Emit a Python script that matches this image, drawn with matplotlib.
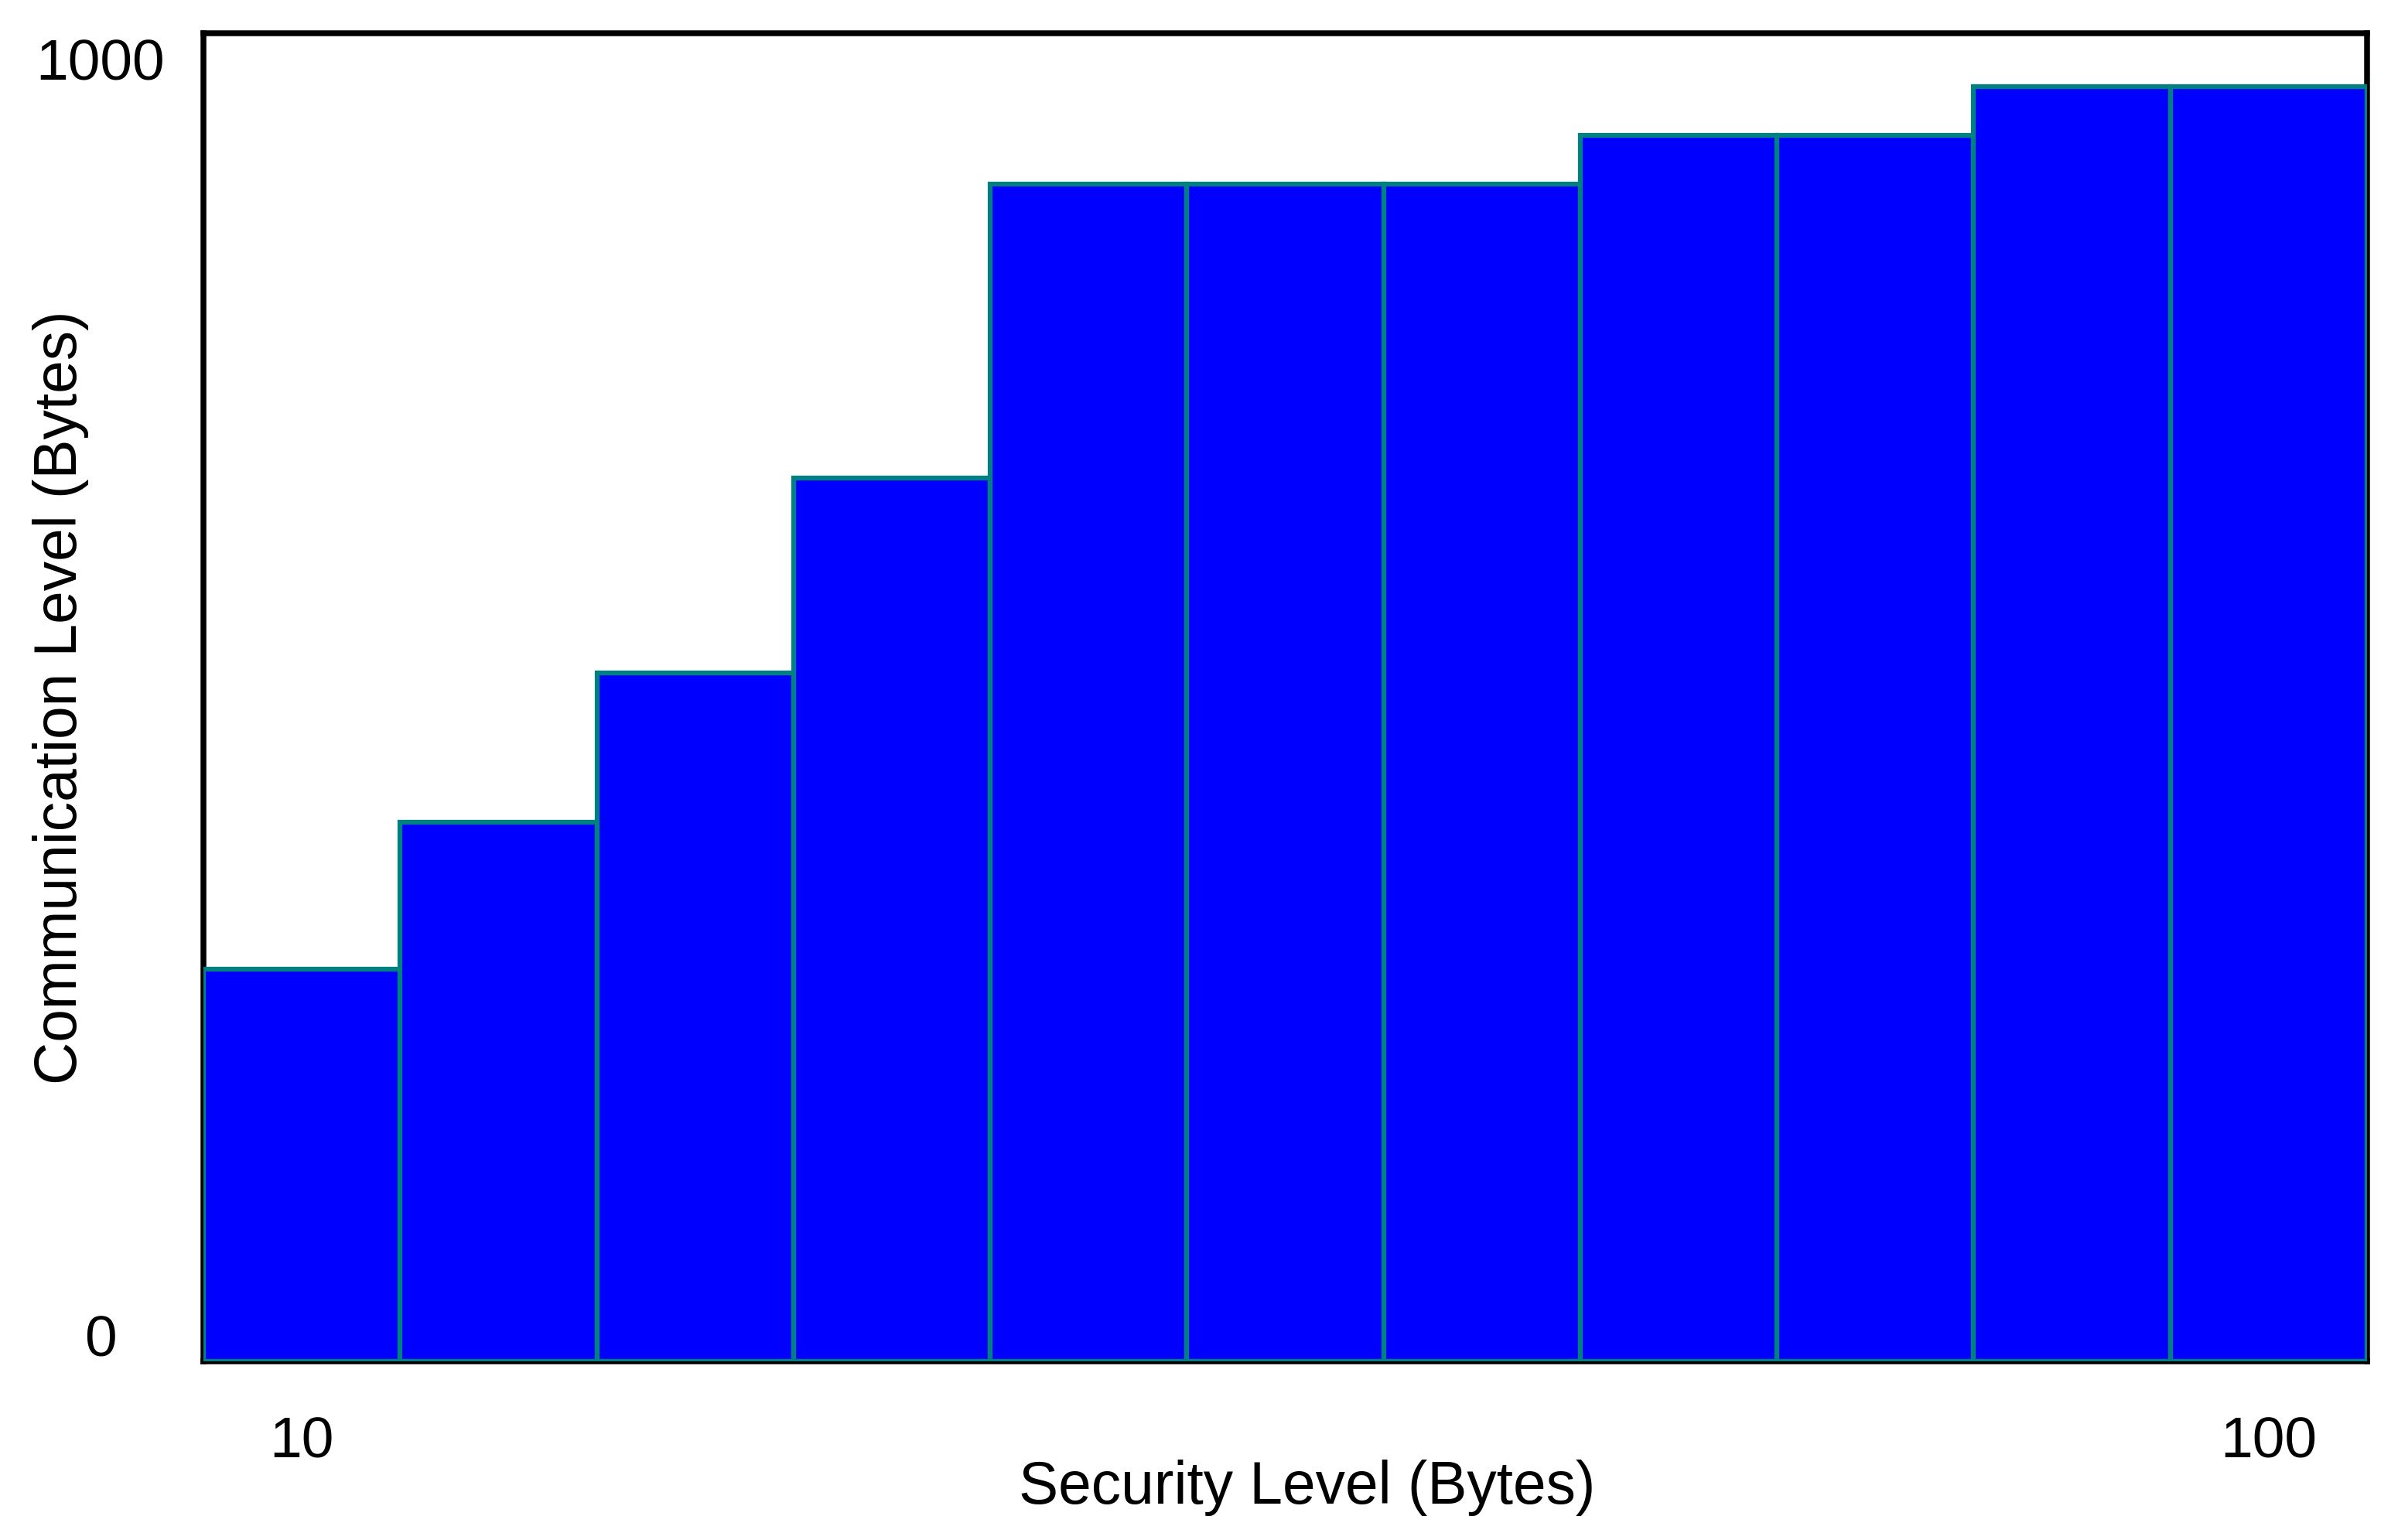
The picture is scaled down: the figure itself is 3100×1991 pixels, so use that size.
import numpy as np
import matplotlib
matplotlib.use("Agg")
import matplotlib.pyplot as plt

plt.rcParams["font.family"] = ["Liberation Sans", "DejaVu Sans"]

# security levels (bytes) -> only first and last are labelled
security_labels = ["10", "", "", "", "", "", "", "", "", "", "100"]
communication = [287, 402, 519, 672, 902, 902, 902, 940, 940, 978, 978]

y_min, y_max = -20, 1020

fig = plt.figure(figsize=(3100 / 300, 1991 / 300), dpi=300)
ax = fig.add_axes([263 / 3100, 1 - 1760 / 1991, (3060 - 263) / 3100, (1760 - 43) / 1991])

x = np.arange(len(communication))
heights = np.array(communication) - y_min

ax.bar(
    x,
    heights,
    bottom=y_min,
    width=1.0,
    color="#0000ff",
    edgecolor="#008080",
    linewidth=1.5,
    zorder=3,
)

ax.set_xlim(-0.5, len(communication) - 0.5)
ax.set_ylim(y_min, y_max)

ax.set_xticks(x)
ax.set_xticklabels(security_labels, fontsize=18)
ax.set_yticks([0, 1000])
ax.set_yticklabels(["0", "1000"], fontsize=18)
for lbl in ax.get_yticklabels():
    lbl.set_horizontalalignment("center")

ax.tick_params(axis="x", length=0, pad=17)
ax.tick_params(axis="y", length=0, pad=32)

for side in ["left", "top", "right", "bottom"]:
    ax.spines[side].set_linewidth(1.8)
    ax.spines[side].set_color("black")

ax.set_xlabel("Security Level (Bytes)", fontsize=18.4)
ax.set_ylabel("Communication Level (Bytes)", fontsize=18.4)
ax.xaxis.set_label_coords(0.51, -0.074)
ax.yaxis.set_label_coords(-0.053, 0.5)

fig.savefig("out.png", dpi=300)
